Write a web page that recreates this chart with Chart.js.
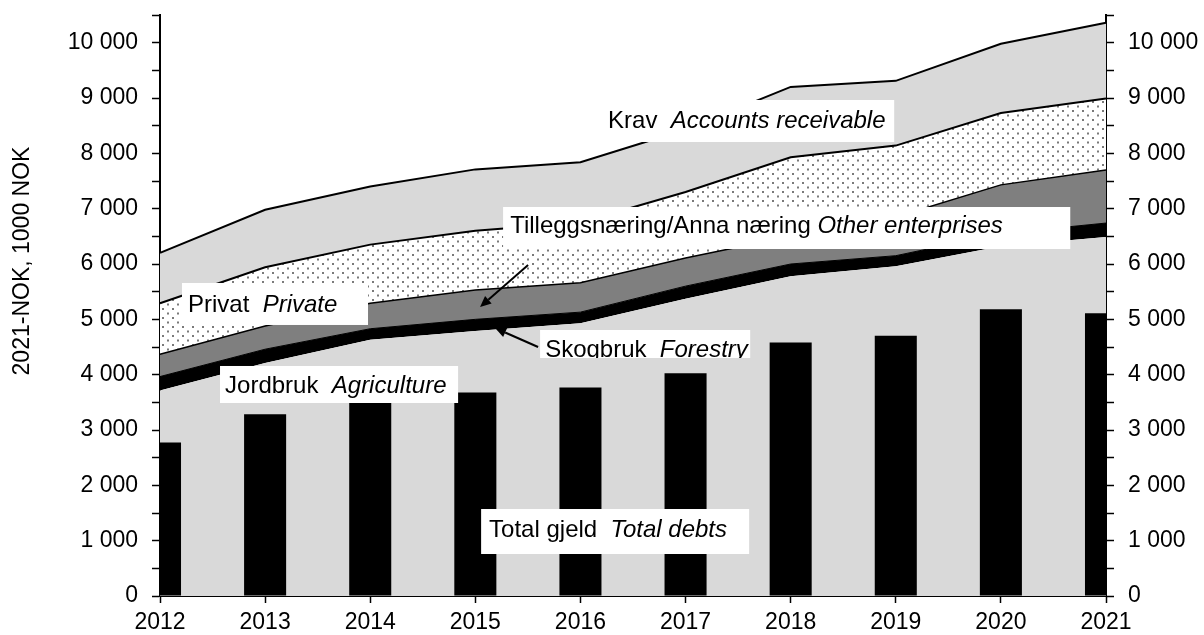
<!DOCTYPE html>
<html>
<head>
<meta charset="utf-8">
<script src="https://cdn.jsdelivr.net/npm/chart.js@4.4.1/dist/chart.umd.min.js"></script>
<style>
html,body{margin:0;padding:0;background:#fff;}
#wrap{width:1204px;height:635px;position:relative;}
</style>
</head>
<body>
<div id="wrap"><canvas id="c" width="1204" height="635"></canvas></div>
<script>
// ---- data (1000 NOK, 2021-NOK) ----
const years       = ['2012','2013','2014','2015','2016','2017','2018','2019','2020','2021'];
const agriculture = [3713, 4210, 4630, 4790, 4930, 5370, 5780, 5960, 6320, 6490];
const forestry    = [ 253,  250,  200,  210,  200,  230,  220,  190,  230,  250];
const otherEnt    = [ 404,  420,  460,  530,  530,  510,  500,  700,  880,  960];
const privateDebt = [ 920, 1060, 1060, 1070, 1090, 1190, 1430, 1290, 1300, 1290];
const receivable  = [ 910, 1040, 1050, 1110, 1090, 1130, 1270, 1170, 1250, 1370];
const totalDebts  = [2773, 3286, 3520, 3678, 3767, 4027, 4581, 4702, 5184, 5112];
const yMin = 0, yMax = 10500, yStep = 500;
const yTitle = '2021-NOK, 1000 NOK';

const FONT = '"Liberation Sans", Arial, sans-serif';

// label boxes in data coordinates [xIndex, value]
const notes = [
  {box:[4.187, 8964, 6.985, 8205], at:[4.263, 8458], parts:[['Krav  ',''],['Accounts receivable','italic ']]},
  {box:[3.264, 7030, 8.660, 6271], at:[3.331, 6560], parts:[['Tilleggsnæring/Anna næring ',''],['Other enterprises','italic ']]},
  {box:[0.209, 5657, 1.979, 4898], at:[0.266, 5133], parts:[['Privat  ',''],['Private','italic ']]},
  {box:[0.571, 4157, 2.836, 3488], at:[0.619, 3669], parts:[['Jordbruk  ',''],['Agriculture','italic ']]},
  {box:[3.616, 4807, 5.615, 4301], at:[3.664, 4319], parts:[['Skogbruk  ',''],['Forestry','italic ']]},
  {box:[3.055, 1572, 5.605,  759], at:[3.131, 1066], parts:[['Total gjeld  ',''],['Total debts','italic ']]}
];
const arrows = [
  {from:[3.502, 5982], to:[3.045, 5223]},
  {from:[3.597, 4500], to:[3.188, 4843]}
];

const ctx = document.getElementById('c').getContext('2d');

const dots = (() => {
  const c = document.createElement('canvas');
  c.width = 10; c.height = 9;
  const g = c.getContext('2d');
  g.fillStyle = '#ffffff'; g.fillRect(0,0,10,9);
  g.fillStyle = '#7a7a7a';
  g.fillRect(2,2,2,2);
  g.fillRect(7,6.5,2,2);
  return ctx.createPattern(c, 'repeat');
})();

const fmt = v => String(v).replace(/\B(?=(\d{3})+(?!\d))/g, ' ');

const annotate = {
  id: 'annotate',
  afterDatasetsDraw(chart) {
    const g = chart.ctx, xs = chart.scales.x, ys = chart.scales.y;
    const X = v => xs.left + (xs.right - xs.left) * v / (years.length - 1);
    const Y = v => ys.getPixelForValue(v);
    g.save();
    // arrows
    g.strokeStyle = '#000'; g.fillStyle = '#000'; g.lineWidth = 2;
    arrows.forEach(a => {
      const x0 = X(a.from[0]), y0 = Y(a.from[1]), x1 = X(a.to[0]), y1 = Y(a.to[1]);
      const ang = Math.atan2(y1 - y0, x1 - x0);
      const L = 11, W = 5;
      const bx = x1 - L * Math.cos(ang), by = y1 - L * Math.sin(ang);
      g.beginPath(); g.moveTo(x0, y0); g.lineTo(bx, by); g.stroke();
      g.beginPath();
      g.moveTo(x1, y1);
      g.lineTo(bx + W * Math.sin(ang), by - W * Math.cos(ang));
      g.lineTo(bx - W * Math.sin(ang), by + W * Math.cos(ang));
      g.closePath(); g.fill();
    });
    // boxes + text
    notes.forEach(n => {
      const l = X(n.box[0]), t = Y(n.box[1]), r = X(n.box[2]), b = Y(n.box[3]);
      g.save();
      g.fillStyle = '#fff';
      g.fillRect(l, t, r - l, b - t);
      g.beginPath(); g.rect(l, t, r - l, b - t); g.clip();
      let x = X(n.at[0]);
      const y = Y(n.at[1]);
      g.fillStyle = '#000';
      g.textBaseline = 'alphabetic';
      g.textAlign = 'left';
      n.parts.forEach(p => {
        g.font = p[1] + '24px ' + FONT;
        g.fillText(p[0], x, y);
        x += g.measureText(p[0]).width;
      });
      g.restore();
    });
    // y-axis title
    g.save();
    g.translate(chart.chartArea.left - 137, Y(6054));
    g.rotate(-Math.PI / 2);
    g.font = '23px ' + FONT;
    g.fillStyle = '#000';
    g.textAlign = 'center';
    g.textBaseline = 'middle';
    g.fillText(yTitle, 0, 0);
    g.restore();
    g.restore();
  }
};

const areaBase = {type:'line', stack:'a', pointRadius:0, tension:0, order:1};

const yTicks = {
  font:{family:FONT, size:23}, color:'#000', stepSize:yStep, autoSkip:false, padding:14,
  callback: v => (v % 1000 === 0 ? fmt(v) : '')
};

new Chart(ctx, {
  type: 'bar',
  data: {
    labels: years,
    datasets: [
      Object.assign({}, areaBase, {label:'Jordbruk', data:agriculture, fill:'origin', backgroundColor:'#d9d9d9', borderColor:'#000', borderWidth:0}),
      Object.assign({}, areaBase, {label:'Skogbruk', data:forestry, fill:'-1', backgroundColor:'#000', borderColor:'#000', borderWidth:1}),
      Object.assign({}, areaBase, {label:'Tilleggsnæring', data:otherEnt, fill:'-1', backgroundColor:'#7f7f7f', borderColor:'#000', borderWidth:1.5}),
      Object.assign({}, areaBase, {label:'Privat', data:privateDebt, fill:'-1', backgroundColor:dots, borderColor:'#000', borderWidth:2}),
      Object.assign({}, areaBase, {label:'Krav', data:receivable, fill:'-1', backgroundColor:'#d9d9d9', borderColor:'#000', borderWidth:2}),
      {type:'bar', label:'Total gjeld', data:totalDebts, stack:'b', backgroundColor:'#000', borderWidth:0,
       barPercentage:0.4, categoryPercentage:1, order:0, clip:0}
    ]
  },
  options: {
    responsive:false, animation:false,
    layout:{padding:{top:15, left:0, right:0, bottom:0}},
    plugins:{legend:{display:false}, tooltip:{enabled:false}},
    scales:{
      x:{
        offset:false, z:1,
        grid:{offset:false, drawOnChartArea:false, drawTicks:true, tickLength:7, color:'#000', tickWidth:1.5},
        border:{display:true, color:'#000', width:2},
        ticks:{font:{family:FONT, size:23}, color:'#000', autoSkip:false, maxRotation:0, padding:6},
        afterFit: s => { s.height = 39; s.paddingLeft = 0; s.paddingRight = 0; }
      },
      y:{
        stacked:true, min:yMin, max:yMax, position:'left', z:1,
        grid:{drawOnChartArea:false, drawTicks:true, tickLength:8, color:'#000', tickWidth:1.5},
        border:{display:true, color:'#000', width:2},
        ticks:yTicks,
        afterFit: s => { s.width = 160; s.paddingTop = 0; s.paddingBottom = 0; }
      },
      y2:{
        min:yMin, max:yMax, position:'right', z:1,
        grid:{drawOnChartArea:false, drawTicks:true, tickLength:8, color:'#000', tickWidth:1.5},
        border:{display:true, color:'#000', width:2},
        ticks:yTicks,
        afterFit: s => { s.width = 98; s.paddingTop = 0; s.paddingBottom = 0; }
      }
    }
  },
  plugins:[annotate]
});
</script>
</body>
</html>
